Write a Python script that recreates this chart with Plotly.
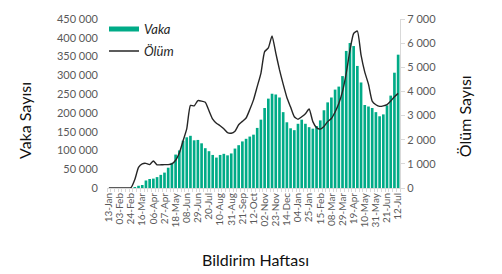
import plotly.graph_objects as go

weeks = [
    "13-Jan", "20-Jan", "27-Jan", "03-Feb", "10-Feb", "17-Feb", "24-Feb", "02-Mar", "09-Mar", "16-Mar",
    "23-Mar", "30-Mar", "06-Apr", "13-Apr", "20-Apr", "27-Apr", "04-May", "11-May", "18-May", "25-May",
    "01-Jun", "08-Jun", "15-Jun", "22-Jun", "29-Jun", "06-Jul", "13-Jul", "20-Jul", "27-Jul", "03-Aug",
    "10-Aug", "17-Aug", "24-Aug", "31-Aug", "07-Sep", "14-Sep", "21-Sep", "28-Sep", "05-Oct", "12-Oct",
    "19-Oct", "26-Oct", "02-Nov", "09-Nov", "16-Nov", "23-Nov", "30-Nov", "07-Dec", "14-Dec", "21-Dec",
    "28-Dec", "04-Jan", "11-Jan", "18-Jan", "25-Jan", "01-Feb", "08-Feb", "15-Feb", "22-Feb", "01-Mar",
    "08-Mar", "15-Mar", "22-Mar", "29-Mar", "05-Apr", "12-Apr", "19-Apr", "26-Apr", "03-May", "10-May",
    "17-May", "24-May", "31-May", "07-Jun", "14-Jun", "21-Jun", "28-Jun", "05-Jul", "12-Jul",
]

vaka = [
    0, 0, 0, 0, 0, 0, 0, 2000, 6000, 8000,
    20000, 24000, 25000, 29000, 35000, 41000, 54000, 67000, 89000, 100000,
    126000, 135000, 139000, 127000, 128000, 119000, 106000, 98000, 88000, 81000,
    88000, 91000, 87000, 92000, 105000, 114000, 124000, 131000, 137000, 142000,
    160000, 182000, 213000, 238000, 251000, 249000, 241000, 202000, 175000, 159000,
    154000, 171000, 182000, 171000, 162000, 158000, 165000, 180000, 207000, 228000,
    241000, 262000, 270000, 298000, 365000, 386000, 378000, 325000, 281000, 221000,
    217000, 213000, 202000, 191000, 196000, 220000, 246000, 307000, 355000,
]

olum = [
    0, 0, 0, 0, 0, 0, 20, 350, 850, 1000,
    1020, 970, 1120, 960, 960, 970, 970, 1000, 1150, 1450,
    1950, 2450, 3420, 3400, 3620, 3600, 3550, 3200, 2850, 2680,
    2580, 2450, 2290, 2270, 2350, 2620, 2760, 2900, 3250, 3650,
    4200, 4750, 5650, 5800, 6300, 5600, 4900, 4300, 3750, 3350,
    2950, 2850, 2950, 3080, 3270, 2750, 2500, 2440, 2550, 2750,
    2880, 3150, 3500, 4000, 4750, 5700, 6400, 6500, 5500, 4800,
    4300, 3600, 3450, 3380, 3400, 3450, 3600, 3780, 3920,
]

x_idx = list(range(len(weeks)))
tick_idx = x_idx[::3]
tick_txt = weeks[::3]

BAR_COLOR = "#00AB87"
GRID_GREY = "#d9d9d9"
TXT_GREY = "#595959"
FONT = "Lato"

fig = go.Figure()

fig.add_trace(go.Bar(
    x=x_idx, y=vaka, name="Vaka", marker=dict(color=BAR_COLOR, line=dict(width=0)),
    showlegend=False, yaxis="y",
))
# legend entry for the bars (drawn as a thick swatch, like the reference)
fig.add_trace(go.Scatter(
    x=[None], y=[None], mode="lines", name="Vaka",
    line=dict(color=BAR_COLOR, width=5), legendgroup="a", yaxis="y",
))
fig.add_trace(go.Scatter(
    x=x_idx, y=olum, mode="lines", name="Ölüm", yaxis="y2",
    line=dict(color="#262626", width=1.4, shape="spline", smoothing=0.5),
    legendgroup="b",
))

W, H = 502, 274
L, R, T, B = 107, 102, 14, 86
pw, ph = W - L - R, H - T - B


def px(xp):
    return (xp - L) / pw


def py(yp):
    return (H - B - yp) / ph


fig.update_layout(
    width=W, height=H,
    margin=dict(l=L, r=R, t=T, b=B, pad=0),
    paper_bgcolor="white", plot_bgcolor="white",
    separators=", ",
    bargap=0.28,
    font=dict(family=FONT, color=TXT_GREY),
    xaxis=dict(
        range=[-0.5, len(weeks) - 0.5],
        tickmode="array", tickvals=tick_idx, ticktext=tick_txt,
        tickangle=-90, tickfont=dict(size=10, color=TXT_GREY, family=FONT),
        ticks="", showline=True, linecolor=GRID_GREY, linewidth=1,
        showgrid=False, zeroline=False,
        minor=dict(tick0=0.5, dtick=1, ticks="outside", ticklen=3, tickcolor=GRID_GREY, showgrid=False),
    ),
    yaxis=dict(
        range=[0, 450000], dtick=50000, tickformat=",d",
        tickfont=dict(size=11, color=TXT_GREY, family=FONT),
        showline=False, showgrid=False, zeroline=False, ticks="",
        ticklabelstandoff=8,
    ),
    yaxis2=dict(
        range=[0, 7000], dtick=1000, tickformat=",d", overlaying="y", side="right",
        tickfont=dict(size=11, color=TXT_GREY, family=FONT),
        showline=True, linecolor=GRID_GREY, linewidth=1,
        ticks="outside", ticklen=4, tickcolor=GRID_GREY,
        showgrid=False, zeroline=False,
    ),
    legend=dict(
        x=px(104), y=py(9), xanchor="left", yanchor="top",
        bgcolor="rgba(0,0,0,0)",
        font=dict(size=13, color="#262626", family=FONT, style="italic"),
        tracegroupgap=2, itemwidth=30,
    ),
    annotations=[
        dict(text="Vaka Sayısı", xref="paper", yref="paper", x=px(25), y=py(119),
             textangle=-90, showarrow=False, xanchor="center", yanchor="middle",
             font=dict(size=16, color="#111111", family=FONT)),
        dict(text="Ölüm Sayısı", xref="paper", yref="paper", x=px(464), y=py(114),
             textangle=-90, showarrow=False, xanchor="center", yanchor="middle",
             font=dict(size=16, color="#111111", family=FONT)),
        dict(text="Bildirim Haftası", xref="paper", yref="paper", x=px(255), y=py(262),
             showarrow=False, xanchor="center", yanchor="middle",
             font=dict(size=16, color="#111111", family=FONT)),
    ],
)

fig.write_html("out.html")
